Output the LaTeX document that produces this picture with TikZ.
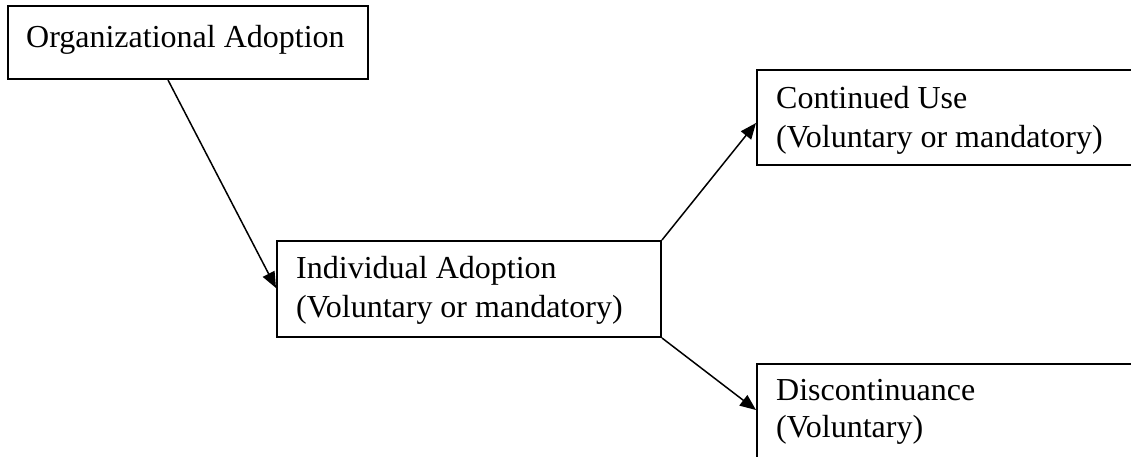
\documentclass[tikz,border=0pt]{standalone}
\usepackage{fontspec}
\setmainfont{Liberation Serif}
\usetikzlibrary{arrows.meta}
\begin{document}
\begin{tikzpicture}[x=1pt,y=-1pt,
  box/.style={draw,line width=2pt,rectangle,anchor=north west,inner sep=0pt},
  txt/.style={anchor=base west,inner sep=0pt,font=\fontsize{32}{38}\selectfont},
  arr/.style={line width=1.5pt,-{Triangle[length=16pt,width=13pt]}}]
\useasboundingbox (0,0) rectangle (1131,456);
\clip (0,0) rectangle (1131,456);
\node[box,minimum width=360pt,minimum height=73pt] (org) at (7,5) {};
\node[box,minimum width=384pt,minimum height=96pt] (ind) at (276,240) {};
\node[box,minimum width=430pt,minimum height=95pt] (cont) at (756,69) {};
\node[box,minimum width=430pt,minimum height=130pt] (disc) at (756,363) {};
\node[txt] (orgt) at (26,47) {Organizational Adoption};
\node[txt] (indt1) at (296,278) {Individual Adoption};
\node[txt] (indt2) at (296,317) {(Voluntary or mandatory)};
\node[txt] (contt1) at (776,108) {Continued Use};
\node[txt] (contt2) at (776,147) {(Voluntary or mandatory)};
\node[txt] (disct1) at (776,400) {Discontinuance};
\node[txt] (disct2) at (776,437) {(Voluntary)};
\draw[arr] ([xshift=161pt]org.south west) -- ([yshift=-48pt]ind.north west);
\draw[arr] (ind.north east) -- ([yshift=-54pt]cont.north west);
\draw[arr] (ind.south east) -- ([yshift=-47pt]disc.north west);
\end{tikzpicture}
\end{document}
